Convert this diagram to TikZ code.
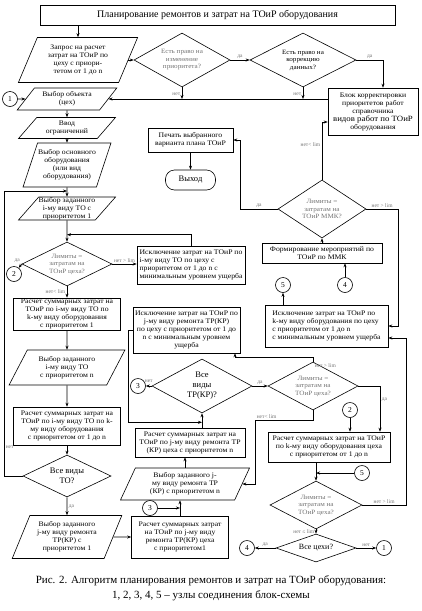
\documentclass[tikz,border=0pt]{standalone}
\usepackage{fontspec}
\setmainfont{Liberation Serif}
\newfontfamily\boxfont{Liberation Serif}[FakeStretch=1.1]
\usetikzlibrary{shapes.geometric,arrows.meta}

\begin{document}
\begin{tikzpicture}[x=1pt,y=-1pt,line width=0.6pt,>={Stealth[length=4pt,width=3pt]},
  blk/.style={draw,rectangle,inner sep=1pt,align=center,font=\boxfont\fontsize{7}{8}\selectfont},
  inp/.style={draw,trapezium,trapezium left angle=65,trapezium right angle=115,trapezium stretches=true,inner sep=0pt,align=center,font=\boxfont\fontsize{7}{8}\selectfont},
  flat/.style={trapezium left angle=48,trapezium right angle=132},
  dia/.style={draw,diamond,shape aspect=2,inner sep=0pt,align=center,text=black!55,font=\boxfont\fontsize{6.5}{7.5}\selectfont},
  vse/.style={dia,text=black,font=\fontsize{8.5}{10}\selectfont},
  con/.style={draw,circle,inner sep=0pt,minimum size=15pt,font=\fontsize{7.5}{8}\selectfont},
  lbl/.style={text=black!55,font=\fontsize{5.5}{6}\selectfont,inner sep=1.5pt}]
  \useasboundingbox (0,0) rectangle (421,611);

  % top part
  \node[blk,minimum width=355,minimum height=20,font=\fontsize{10}{11}\selectfont] (title) at (217.5,15) {Планирование ремонтов и затрат на ТОиР оборудования};
  \node[inp,minimum width=120,minimum height=45] (zapros) at (78,60) {Запрос на расчет\\затрат на ТОиР по\\цеху с приори-\\тетом от 1 до n};
  \node[dia,minimum width=96,minimum height=54] (pravo) at (182,60) {Есть право на\\изменение\\приоритета?};
  \node[dia,text=black,minimum width=106,minimum height=54] (korr) at (303,60) {Есть право на\\коррекцию\\данных?};
  \node[blk,minimum width=90,minimum height=47] (blok) at (373,111.5) {Блок корректировки\\приоритетов работ\\справочника\\{\fontsize{8}{9}\selectfont видов работ по ТОиР}\\оборудования};
  \node[inp,flat,minimum width=100,minimum height=22] (obekt) at (67,99) {Выбор объекта\\(цех)};
  \node[con] (c1) at (10,99) {1};
  \node[inp,flat,minimum width=97,minimum height=21] (vvod) at (67,128) {Ввод\\ограничений};
  \node[inp,minimum width=88,minimum height=44] (osn) at (67,165) {Выбор основного\\оборудования\\(или вид\\оборудования)};
  \node[inp,flat,minimum width=88,minimum height=23] (vyborTO1) at (67,208.5) {Выбор заданного\\i-му виду ТО с\\приоритетом 1};
  \node[blk,minimum width=85,minimum height=24] (pechat) at (190.5,140) {Печать выбранного\\варианта плана ТОиР};
  \node[blk,rounded corners=9pt,minimum width=50,minimum height=20,font=\fontsize{8.5}{10}\selectfont] (vyhod) at (190.5,180) {Выход};
  \node[dia,minimum width=88,minimum height=58] (mmk) at (322,209) {Лимиты =\\затратам на\\ТОиР ММК?};
  \node[blk,minimum width=120,minimum height=20] (form) at (322,253) {Формирование мероприятий по\\ТОиР по ММК};
  \node[con] (c5a) at (283,285) {5};
  \node[con] (c4a) at (345,285) {4};
  \node[blk,align=left,minimum width=123,minimum height=42] (isklk) at (326.5,326) {Исключение затрат на ТОиР по\\k-му виду оборудования по цеху\\с приоритетом от 1 до n\\с минимальным уровнем ущерба};

  % i-loop over TO
  \node[dia,minimum width=90,minimum height=44] (limL) at (67,264) {Лимиты =\\затратам на\\ТОиР цеха?};
  \node[con] (c2a) at (14,274) {2};
  \node[blk,align=left,minimum width=108,minimum height=38] (iskl1) at (191,265) {Исключение затрат на ТОиР по\\i-му виду ТО по цеху с\\приоритетом от 1 до n с\\минимальным уровнем ущерба};
  \node[blk,minimum width=107,minimum height=32] (raschet1) at (67,314) {Расчет суммарных затрат на\\ТОиР по i-му виду ТО по\\k-му виду оборудования\\с приоритетом 1};
  \node[inp,trapezium left angle=60,trapezium right angle=120,minimum width=116,minimum height=35] (vyborTOn) at (67,367.5) {Выбор заданного\\i-му виду ТО\\с приоритетом n};
  \node[blk,minimum width=107,minimum height=38] (raschetn) at (67,426) {Расчет суммарных затрат на\\ТОиР по i-му виду ТО по k-\\му виду оборудования\\с приоритетом от 1 до n};
  \node[vse,minimum width=88,minimum height=42] (vseTO) at (67,476) {Все виды\\ТО?};

  % j-loop over TR(KR)
  \node[inp,minimum width=110,minimum height=43] (vyborTR1) at (67,537) {Выбор заданного\\j-му виду ремонта\\ТР(КР) с\\приоритетом 1};
  \node[blk,minimum width=97,minimum height=42] (raschetTR1) at (180,537) {Расчет суммарных затрат\\на ТОиР по j-му виду\\ремонта ТР(КР) цеха\\с приоритетом1};
  \node[con] (c3b) at (150,508) {3};
  \node[inp,minimum width=130,minimum height=32] (vyborTRn) at (185,484) {Выбор заданного j-\\му виду ремонта ТР\\(КР) с приоритетом n};
  \node[blk,minimum width=110,minimum height=29] (raschetTRn) at (190,442.5) {Расчет суммарных затрат на\\ТОиР по j-му виду ремонта ТР\\(КР) цеха с приоритетом n};
  \node[vse,minimum width=100,minimum height=54] (vseTR) at (202,386) {Все\\виды\\ТР(КР)?};
  \node[con] (c3a) at (138,386) {3};
  \node[blk,minimum width=107,minimum height=46] (isklTR) at (186.5,330) {Исключение затрат на ТОиР по\\j-му виду ремонта ТР(КР)\\по цеху с приоритетом от 1 до\\n с минимальным уровнем\\ущерба};

  % shop level
  \node[dia,minimum width=90,minimum height=48] (limM) at (313,386) {Лимиты =\\затратам на\\ТОиР цеха?};
  \node[con] (c2b) at (350,410) {2};
  \node[blk,minimum width=122,minimum height=30] (raschetk) at (329,447) {Расчет суммарных затрат на ТОиР\\по k-му виду оборудования цеха\\с приоритетом от 1 до n};
  \node[con] (c5b) at (362,473) {5};
  \node[dia,minimum width=92,minimum height=48] (limB) at (316,505) {Лимиты =\\затратам на\\ТОиР цеха?};
  \node[vse,minimum width=80,minimum height=28,font=\fontsize{8}{9}\selectfont] (vseC) at (316,548) {Все цехи?};
  \node[con] (c4b) at (247,548) {4};
  \node[con] (c1b) at (384,548) {1};

  \node[align=center,font=\fontsize{11}{15}\selectfont] (caption) at (211,588) {Рис. 2. Алгоритм планирования ремонтов и затрат на ТОиР оборудования:\\1, 2, 3, 4, 5 – узлы соединения блок-схемы};

  \coordinate (loopTO) at (4,191);
  \coordinate (bendM) at (255,420);

  % connectors, top
  \draw[->] (zapros.north |- title.south) -- (zapros.north);
  \draw[->] (zapros.east) -- (pravo.west);
  \draw[->] (pravo.east) -- node[lbl,above]{да} (korr.west);
  \draw[->] (korr.east) -| node[lbl,above,pos=0.25]{да} ([xshift=10pt]blok.north);
  \draw[->] (pravo.south) -- node[lbl,left,pos=0.6]{нет} (pravo.south |- obekt.east);
  \draw[->] (korr.south) -- node[lbl,left,pos=0.6]{нет} (korr.south |- obekt.east);
  \draw[->] (blok.west |- obekt.east) -- (obekt.east);
  \draw[->] (c1.east) -- (obekt.west);
  \draw[->] (obekt.south) -- (vvod.north);
  \draw[->] (vvod.south) -- (osn.north);
  \draw[->] (osn.south) -- (vyborTO1.north);
  \draw[->] (vseTO.west) -| node[lbl,right,pos=0.55]{нет} (loopTO) -- (loopTO -| vyborTO1.north);
  \draw[->] (pechat.south) -- (vyhod.north);
  \draw[->] (mmk.north) |- node[lbl,left,pos=0.3]{нет< lim} ([yshift=-10.5pt]blok.west);
  \draw[->] (mmk.west) -| node[lbl,above,pos=0.25]{да} ([xshift=7pt]pechat.east) -- (pechat.east);
  \draw[->] (mmk.east) -| node[lbl,above,pos=0.25]{нет > lim} ([xshift=9.5pt]isklk.east) -- (isklk.east);
  \draw[->] (form.north) -- (mmk.south);
  \draw[->] (c4a.north) -- (c4a.north |- form.south);
  \draw[->] (isklk.north -| c5a.south) -- (c5a.south);

  % connectors, i-loop
  \draw[->] (vyborTO1.south) -- (limL.north);
  \draw[->] (iskl1.north) |- ([yshift=7pt]limL.north);
  \draw[->] (limL.east) -- node[lbl,above]{нет > lim} (limL.east -| iskl1.west);
  \draw[->] (limL.west) node[lbl,above left]{да} -- (c2a);
  \draw[->] (limL.south) -- node[lbl,left]{нет< lim} (raschet1.north);
  \draw[->] (raschet1.south) -- (vyborTOn.north);
  \draw[->] (vyborTOn.south) -- (raschetn.north);
  \draw[->] (raschetn.south) -- (vseTO.north);
  \draw[->] (vseTO.south) -- node[lbl,right]{да} (vyborTR1.north);

  % connectors, j-loop
  \draw[->] (vyborTR1.east) -- (raschetTR1.west);
  \draw[->] (raschetTR1.north) -- (raschetTR1.north |- vyborTRn.south);
  \draw[->] (c3b.east) -- (c3b.east -| raschetTR1.north);
  \draw[->] (vyborTRn.north) -- (vyborTRn.north |- raschetTRn.south);
  \draw[->] (raschetTRn.north -| vseTR.south) -- (vseTR.south);
  \draw[->] (isklTR.west) -- ++(-4,0) |- ([yshift=-9pt]vseTR.south);
  \draw[->] (vseTR.west) -- node[lbl,above=2pt]{нет} (c3a.east);
  \draw[->] (vseTR.east) -- node[lbl,above]{да} (limM.west);
  \draw[->] (limM.north) node[lbl,below right]{нет > lim} -- ++(0,-4) -| ([xshift=48.5pt]isklTR.south);
  \draw[->] (limM.south) |- node[lbl,above,pos=0.9]{нет< lim} (bendM) |- (vyborTRn.east);
  \draw[->] (limM.east) -| node[lbl,right,pos=0.65]{да} ([xshift=51pt]raschetk.north);

  % connectors, shop level
  \draw[->] (c2b.south) -- (c2b.south |- raschetk.north);
  \draw[->] (raschetk.south -| limB.north) -- (limB.north);
  \draw[->] (c5b.west) -- (c5b.west -| limB.north);
  \draw[->] (limB.east) -| node[lbl,above,pos=0.25]{нет > lim} ([xshift=17.5pt,yshift=-12pt]isklk.east) -- ([yshift=-12pt]isklk.east);
  \draw[->] (limB.south) -- node[lbl,left]{нет ≤ lim} (vseC.north);
  \draw[->] (vseC.west) -- node[lbl,above]{да} (c4b.east);
  \draw[->] (vseC.east) -- node[lbl,above]{нет} (c1b.west);
\end{tikzpicture}
\end{document}
